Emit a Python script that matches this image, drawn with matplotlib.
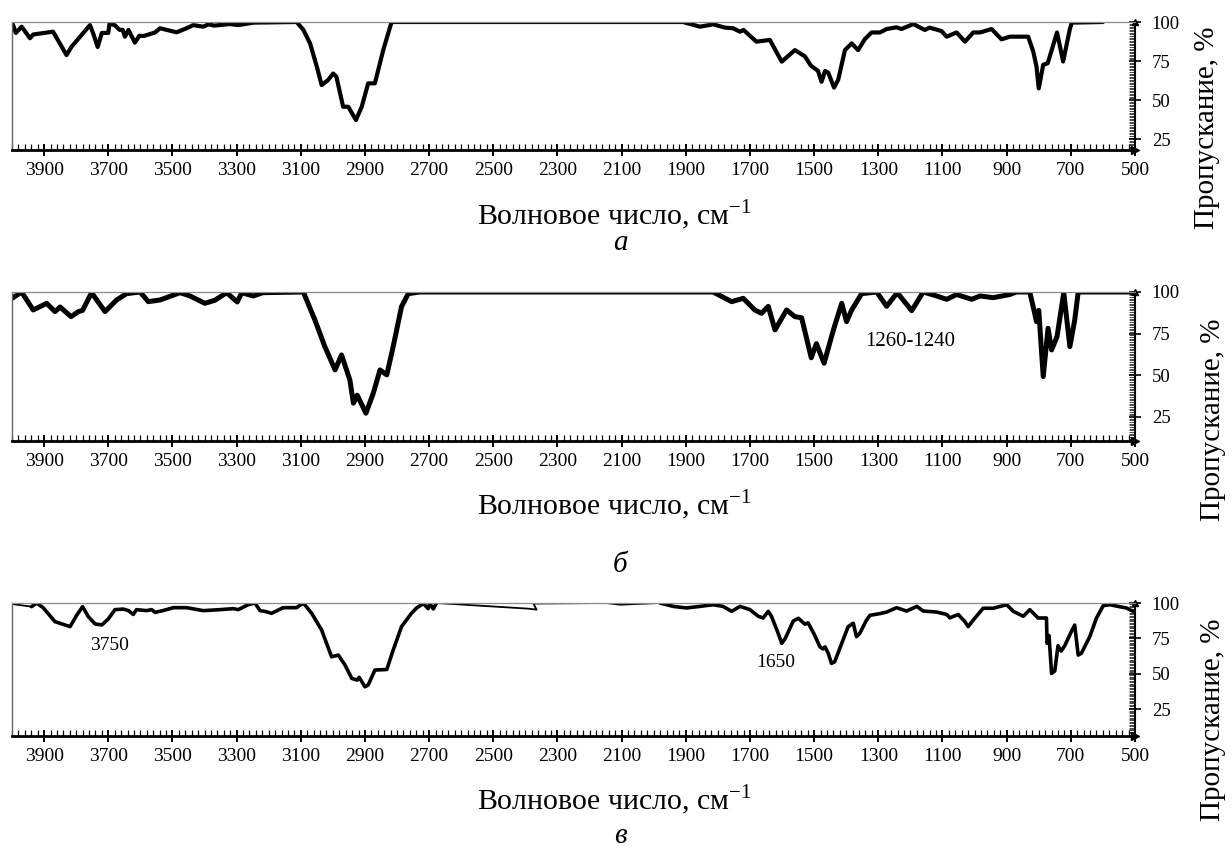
import numpy as np
import matplotlib
matplotlib.use('Agg')
import matplotlib.pyplot as plt
from matplotlib.ticker import MultipleLocator

plt.rcParams['font.family'] = ['Liberation Serif', 'DejaVu Serif']
plt.rcParams['mathtext.fontset'] = 'custom'
plt.rcParams['mathtext.rm'] = 'Liberation Serif'

# --- data (wavenumber, transmittance %) ---
wn_a = [4000, 3988, 3970, 3944, 3934, 3872, 3830, 3815, 3757, 3747, 3733, 3720, 3700, 3696,
        3680, 3665, 3655, 3648, 3637, 3617, 3603, 3590, 3554, 3539, 3519, 3487, 3456, 3435,
        3404, 3388, 3370, 3321, 3295, 3248, 3113, 3092, 3071, 3050, 3035, 3015, 2999, 2989,
        2968, 2952, 2928, 2910, 2890, 2869, 2843, 2817, 1909, 1856, 1815, 1778, 1753, 1731,
        1720, 1680, 1638, 1601, 1560, 1529, 1510, 1488, 1477, 1466, 1456, 1438, 1425, 1404,
        1383, 1363, 1342, 1321, 1295, 1274, 1243, 1228, 1191, 1155, 1140, 1103, 1087, 1056,
        1030, 1004, 983, 947, 916, 890, 833, 817, 807, 800, 786, 772, 743, 724, 703, 697, 600]
t_a = [100, 93, 97, 89.6, 92, 93.8, 78.8, 84, 98, 92.7, 84, 93, 93, 99,
       98, 95, 95, 90.6, 94.9, 86.8, 91.2, 91, 93.3, 96, 95, 93.4, 96, 98,
       97, 98.5, 97.7, 98.7, 98, 99.6, 100, 95, 86.3, 71.4, 59.6, 62.8, 67, 65,
       45.7, 45.7, 37.2, 45.7, 60.7, 60.7, 82, 100, 100, 97, 98.5, 96.4, 96, 93.8,
       94.9, 87.4, 88.5, 74.6, 82, 78, 72, 68.7, 61.7, 68.6, 67.5, 58, 63, 82,
       86.3, 82, 89, 93.3, 93.3, 95.5, 96.6, 95.5, 98.7, 94.9, 96.4, 94.2, 90.6, 93.3,
       87.4, 93.3, 93.3, 95.5, 88.9, 90.6, 90.6, 81, 71.4, 57.5, 72.6, 73.6, 93.3, 74.7, 95.5, 99.6, 100]

wn_b = [4000, 3970, 3934, 3892, 3866, 3850, 3816, 3793, 3780, 3752, 3710, 3674, 3643, 3601,
        3575, 3539, 3476, 3445, 3399, 3368, 3331, 3298, 3284, 3248, 3218, 3092, 3056, 3025,
        2993, 2973, 2947, 2936, 2924, 2897, 2874, 2853, 2832, 2812, 2786, 2765, 2729, 1815,
        1757, 1721, 1685, 1664, 1643, 1622, 1586, 1560, 1539, 1509, 1493, 1469, 1440, 1414,
        1399, 1383, 1352, 1305, 1274, 1241, 1196, 1160, 1118, 1087, 1056, 1009, 983, 942,
        890, 870, 828, 815, 807, 800, 786, 771, 760, 743, 722, 703, 688, 677, 500]
t_b = [96.2, 100, 89.2, 93.2, 88.2, 91, 85.2, 88.2, 89, 99.6, 88.2, 95.2, 99, 100,
       94.2, 95.2, 99.6, 97.6, 93.2, 95, 99.6, 94, 99.6, 97.6, 99.6, 100, 83.2, 67.2,
       53.2, 62.2, 47.2, 33.2, 38, 27.2, 39.2, 53.2, 50.2, 67.2, 91.2, 99, 100, 100,
       94.2, 96.2, 89.2, 87.2, 91.4, 77.2, 89.2, 85.2, 84.5, 60.5, 69, 57.2, 77.2, 93.2,
       82.2, 89.2, 99, 100, 91.4, 99.6, 88.8, 100, 97.6, 95.6, 98.5, 95.6, 97.6, 96.6,
       98.5, 100, 100, 89.2, 82.2, 89, 49.2, 78.2, 65.2, 73.2, 99.6, 67.2, 83, 100, 100]

wn_c = [4000, 3939, 3923, 3903, 3866, 3845, 3819, 3798, 3780, 3762, 3741, 3720, 3700, 3679,
        3653, 3637, 3622, 3612, 3580, 3565, 3554, 3530, 3497, 3456, 3404, 3352, 3310, 3295,
        3264, 3243, 3227, 3210, 3191, 3155, 3113, 3092, 3066, 3035, 3004, 2983, 2962, 2941,
        2924, 2918, 2900, 2890, 2869, 2832, 2812, 2786, 2755, 2739, 2718, 2703, 2698, 2687,
        2677, 2391, 2365, 2375, 2147, 2105, 1981, 1939, 1898, 1856, 1815, 1784, 1757, 1731,
        1700, 1674, 1659, 1643, 1633, 1612, 1601, 1590, 1565, 1549, 1529, 1519, 1500, 1482,
        1472, 1466, 1456, 1446, 1436, 1414, 1394, 1378, 1368, 1358, 1337, 1326, 1295, 1274,
        1243, 1212, 1180, 1160, 1118, 1087, 1077, 1051, 1030, 1020, 1004, 973, 942, 900,
        879, 848, 828, 818, 802, 776, 774, 768, 760, 750, 740, 730, 719, 698, 688, 677,
        667, 641, 620, 599, 578, 553, 527, 506]
t_c = [99.3, 97.4, 100, 96.7, 86.8, 85.2, 83.3, 91.5, 97.4, 90.3, 85.2, 84.5, 88.7, 95.3,
       95.7, 94.6, 91.9, 95.3, 94.6, 95.3, 93.4, 94.6, 96.7, 96.7, 94.6, 95.3, 96, 95.3,
       98.8, 100, 94.6, 94, 92.7, 96.7, 96.7, 100, 92.7, 80.9, 62, 63.2, 56.1, 46.7,
       45.5, 47.5, 40.8, 42, 52.6, 53, 66.7, 83.3, 92.7, 96.5, 99.6, 96, 99.6, 95.8,
       100, 96, 95.3, 99.6, 100, 98.8, 100, 97.6, 96.5, 97.6, 98.8, 97.6, 94.1, 97.6,
       95.3, 90.6, 89.4, 94.1, 90.6, 78.5, 71.5, 75, 87.3, 89.2, 85, 86, 78, 69,
       67.5, 69, 64.4, 57.3, 58.5, 71.5, 83.3, 85.7, 76.2, 78.5, 87.8, 91.3, 92.5, 93.6,
       96.7, 94.3, 97.6, 94.3, 93.6, 91.9, 89.5, 91.9, 86.8, 83.3, 88, 96.3, 96.3, 98.8,
       94.1, 90.6, 95.3, 93, 89.4, 89.4, 71.5, 77, 50.2, 52, 69.8, 66, 69.8, 80, 84.4, 63.2,
       64.5, 76.2, 89.4, 98.1, 98.8, 97.6, 96.5, 94.1]

major_x = list(range(3900, 499, -200))
y_ticks = [25, 50, 75, 100]


def setup(ax, ymin):
    ax.set_xlim(4000, 500)
    ax.set_ylim(ymin, 100)
    ax.set_xticks(major_x)
    ax.xaxis.set_minor_locator(MultipleLocator(20))
    ax.tick_params(axis='x', which='major', direction='inout', length=9, width=1.4,
                   labelsize=14, pad=4)
    ax.tick_params(axis='x', which='minor', direction='in', length=4, width=0.9)
    ax.yaxis.tick_right()
    ax.set_yticks(y_ticks)
    ax.yaxis.set_minor_locator(MultipleLocator(1))
    ax.tick_params(axis='y', which='major', direction='inout', length=8, width=1.2,
                   labelsize=13.5, pad=8)
    ax.tick_params(axis='y', which='minor', direction='in', length=4, width=0.5)
    ax.spines['bottom'].set_linewidth(2)
    ax.spines['right'].set_linewidth(1.5)
    ax.spines['top'].set_color('#8c8c8c')
    ax.spines['top'].set_linewidth(0.9)
    ax.spines['left'].set_color('#666666')
    ax.spines['left'].set_linewidth(1)
    ax.plot([1], [0], marker='>', ms=6, color='k', transform=ax.transAxes, clip_on=False)
    ax.plot([1], [1], marker='^', ms=5, color='k', transform=ax.transAxes, clip_on=False)


fig = plt.figure(figsize=(12.32, 8.49), dpi=100)
W, H = 1232, 849
left, right = 12 / W, 1135 / W

# panel a
ax_a = fig.add_axes([left, 1 - 150 / H, right - left, 128 / H])
ax_a.plot(wn_a, t_a, color='k', lw=3.0, solid_joinstyle='round', solid_capstyle='round')
setup(ax_a, 18)

# panel b
ax_b = fig.add_axes([left, 1 - 441 / H, right - left, 149 / H])
ax_b.plot(wn_b, t_b, color='k', lw=3.6, solid_joinstyle='round', solid_capstyle='round')
setup(ax_b, 10.5)
ax_b.text(1202, 70.5, '1260-1240', fontsize=15, ha='center', va='center')

# panel c: thin pieces and thick pieces
ax_c = fig.add_axes([left, 1 - 736 / H, right - left, 133 / H])
wc = np.array(wn_c, dtype=float)
tc = np.array(t_c, dtype=float)
ax_c.plot(wc, tc, color='k', lw=1.3, solid_joinstyle='round')
thick = np.ma.masked_where(((wc > 3939) | ((wc < 2677) & (wc > 1981))), tc)
ax_c.plot(wc, thick, color='k', lw=2.6, solid_joinstyle='round', solid_capstyle='round')
setup(ax_c, 6)
ax_c.text(3695, 70.3, '3750', fontsize=14, ha='center', va='center')
ax_c.text(1620, 57.6, '1650', fontsize=14, ha='center', va='center')

# axis titles and panel letters
xlab = 'Волновое число, см$^{-1}$'
for yc, letter, yl in [(215, 'а', 243), (505, 'б', 565), (800, 'в', 836)]:
    fig.text(614 / W, 1 - yc / H, xlab, fontsize=21.5, ha='center', va='center')
    fig.text(620 / W, 1 - yl / H, letter, fontsize=21, ha='center', va='center', style='italic')

for xc, yc in [(1207, 128), (1213, 420), (1213, 720)]:
    fig.text(xc / W, 1 - yc / H, 'Пропускание, %', fontsize=21, rotation=90,
             ha='center', va='center')

fig.savefig('out.png', dpi=100)
